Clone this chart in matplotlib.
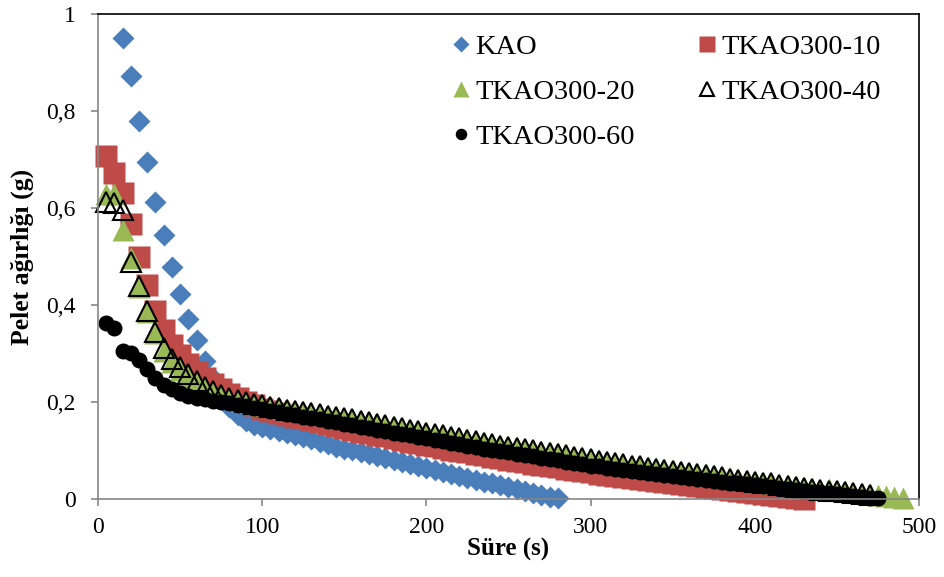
import matplotlib.pyplot as plt

# Pellet weight vs. time, sampled every 5 s
t_kao = list(range(15, 281, 5))
w_kao = [0.950, 0.872, 0.780, 0.695, 0.612, 0.544, 0.479, 0.423, 0.372, 0.327,
         0.285, 0.250, 0.220, 0.190, 0.173, 0.160, 0.153, 0.148, 0.144, 0.140,
         0.136, 0.132, 0.128, 0.123, 0.118, 0.113, 0.108, 0.104, 0.100, 0.096,
         0.092, 0.088, 0.084, 0.080, 0.076, 0.072, 0.068, 0.064, 0.060, 0.056,
         0.052, 0.048, 0.044, 0.040, 0.036, 0.032, 0.028, 0.024, 0.020, 0.016,
         0.012, 0.009, 0.005, 0.002]

t_10 = list(range(5, 431, 5))
w_10 = [0.707, 0.672, 0.630, 0.568, 0.498, 0.441, 0.388, 0.348, 0.318, 0.297,
        0.278, 0.262, 0.249, 0.237, 0.226, 0.217, 0.208, 0.200, 0.193, 0.186,
        0.182, 0.178, 0.174, 0.170, 0.166, 0.162, 0.158, 0.154, 0.150, 0.147,
        0.143, 0.139, 0.136, 0.132, 0.129, 0.125, 0.122, 0.118, 0.115, 0.112,
        0.109, 0.106, 0.102, 0.099, 0.096, 0.093, 0.090, 0.087, 0.084, 0.081,
        0.079, 0.076, 0.073, 0.070, 0.068, 0.065, 0.062, 0.060, 0.057, 0.055,
        0.052, 0.050, 0.048, 0.045, 0.043, 0.041, 0.039, 0.037, 0.035, 0.033,
        0.031, 0.029, 0.027, 0.025, 0.023, 0.021, 0.019, 0.017, 0.015, 0.013,
        0.011, 0.009, 0.007, 0.005, 0.003, 0.001]

t_20 = list(range(5, 491, 5))
w_20 = [0.629, 0.628, 0.555, 0.496, 0.438, 0.386, 0.342, 0.305, 0.283, 0.266,
        0.252, 0.240, 0.229, 0.220, 0.213, 0.208, 0.204, 0.200, 0.197, 0.194,
        0.191, 0.188, 0.186, 0.183, 0.181, 0.179, 0.176, 0.174, 0.171, 0.168,
        0.165, 0.162, 0.159, 0.156, 0.153, 0.150, 0.147, 0.144, 0.141, 0.138,
        0.135, 0.132, 0.129, 0.126, 0.123, 0.120, 0.117, 0.114, 0.112, 0.109,
        0.107, 0.104, 0.101, 0.099, 0.096, 0.094, 0.091, 0.089, 0.086, 0.083,
        0.081, 0.078, 0.076, 0.073, 0.071, 0.068, 0.066, 0.064, 0.062, 0.059,
        0.057, 0.055, 0.053, 0.051, 0.049, 0.046, 0.044, 0.042, 0.040, 0.038,
        0.036, 0.033, 0.031, 0.029, 0.027, 0.025, 0.023, 0.021, 0.020, 0.018,
        0.016, 0.014, 0.012, 0.011, 0.009, 0.006, 0.004, 0.003]

t_40 = list(range(5, 471, 5))
w_40 = [0.612, 0.610, 0.596, 0.488, 0.440, 0.388, 0.345, 0.311, 0.288, 0.272,
        0.257, 0.243, 0.231, 0.222, 0.215, 0.209, 0.204, 0.200, 0.196, 0.193,
        0.190, 0.187, 0.184, 0.182, 0.179, 0.177, 0.175, 0.172, 0.170, 0.167,
        0.164, 0.161, 0.158, 0.155, 0.152, 0.149, 0.146, 0.143, 0.140, 0.137,
        0.134, 0.131, 0.128, 0.125, 0.122, 0.119, 0.116, 0.113, 0.110, 0.108,
        0.105, 0.103, 0.100, 0.097, 0.095, 0.092, 0.090, 0.087, 0.085, 0.082,
        0.079, 0.077, 0.074, 0.072, 0.069, 0.067, 0.064, 0.062, 0.060, 0.058,
        0.055, 0.053, 0.051, 0.049, 0.047, 0.045, 0.042, 0.040, 0.038, 0.036,
        0.034, 0.032, 0.029, 0.027, 0.025, 0.023, 0.021, 0.019, 0.017, 0.016,
        0.014, 0.012, 0.010, 0.008]

t_60 = list(range(5, 476, 5))
w_60 = [0.362, 0.352, 0.306, 0.300, 0.287, 0.268, 0.250, 0.236, 0.226, 0.218,
        0.213, 0.209, 0.206, 0.203, 0.200, 0.197, 0.194, 0.191, 0.188, 0.185,
        0.182, 0.179, 0.176, 0.173, 0.170, 0.167, 0.164, 0.161, 0.158, 0.155,
        0.152, 0.149, 0.146, 0.143, 0.140, 0.137, 0.134, 0.131, 0.128, 0.125,
        0.122, 0.119, 0.116, 0.113, 0.110, 0.107, 0.104, 0.101, 0.098, 0.096,
        0.093, 0.090, 0.088, 0.085, 0.082, 0.080, 0.077, 0.074, 0.072, 0.069,
        0.067, 0.064, 0.062, 0.059, 0.057, 0.055, 0.053, 0.051, 0.049, 0.047,
        0.045, 0.043, 0.041, 0.040, 0.038, 0.036, 0.034, 0.032, 0.030, 0.028,
        0.026, 0.024, 0.022, 0.020, 0.019, 0.017, 0.015, 0.014, 0.012, 0.010,
        0.008, 0.007, 0.005, 0.003, 0.002]

y_ticks = [0, 0.2, 0.4, 0.6, 0.8, 1]
y_tick_labels = ['0', '0,2', '0,4', '0,6', '0,8', '1']
x_ticks = [0, 100, 200, 300, 400, 500]

plt.rcParams['font.family'] = ['Liberation Serif', 'DejaVu Serif']

fig = plt.figure(figsize=(9.44, 5.77), dpi=100)
ax = fig.add_axes([0.1038, 0.1352, 0.8697, 0.8405])

h_kao, = ax.plot(t_kao, w_kao, 'D', color='#4a7ebb', ms=11.5, mec='none',
                 clip_on=False, label='KAO')
h_10, = ax.plot(t_10, w_10, 's', color='#be4b48', ms=16, mec='none',
                clip_on=False, label='TKAO300-10')
h_20, = ax.plot(t_20, w_20, '^', color='#98b954', ms=15.5, mec='none',
                clip_on=False, label='TKAO300-20')
h_40, = ax.plot(t_40, w_40, '^', mfc='none', mec='black', mew=1.5, ms=14.5,
                clip_on=False, label='TKAO300-40')
h_60, = ax.plot(t_60, w_60, 'o', color='black', ms=11.5, mec='none',
                clip_on=False, label='TKAO300-60')

ax.set_xlim(0, 500)
ax.set_ylim(0, 1)
ax.set_xticks(x_ticks)
ax.set_yticks(y_ticks)
ax.set_yticklabels(y_tick_labels)
ax.tick_params(labelsize=17, color='#868686', length=5, width=1.2)
ax.tick_params(axis='x', pad=8)
ax.tick_params(axis='y', pad=11)

for side in ['left', 'bottom']:
    ax.spines[side].set_color('#868686')
    ax.spines[side].set_linewidth(1.2)
for side in ['top', 'right']:
    ax.spines[side].set_color('black')
    ax.spines[side].set_linewidth(1.2)

ax.set_xlabel('Süre (s)', fontsize=18, fontweight='bold', labelpad=0)
ax.set_ylabel('Pelet ağırlığı (g)', fontsize=18.5, fontweight='bold', labelpad=9)

# row-wise legend order like the original
handles = [h_kao, h_20, h_60, h_10, h_40]
ax.legend(handles=handles, labels=[h.get_label() for h in handles], ncol=2,
          frameon=False, fontsize=20.5, loc='upper right',
          bbox_to_anchor=(0.985, 1.012), markerscale=0.72, handlelength=0.7,
          handletextpad=0.15, columnspacing=2.2, labelspacing=0.68)

fig.savefig('out.png', dpi=100)
